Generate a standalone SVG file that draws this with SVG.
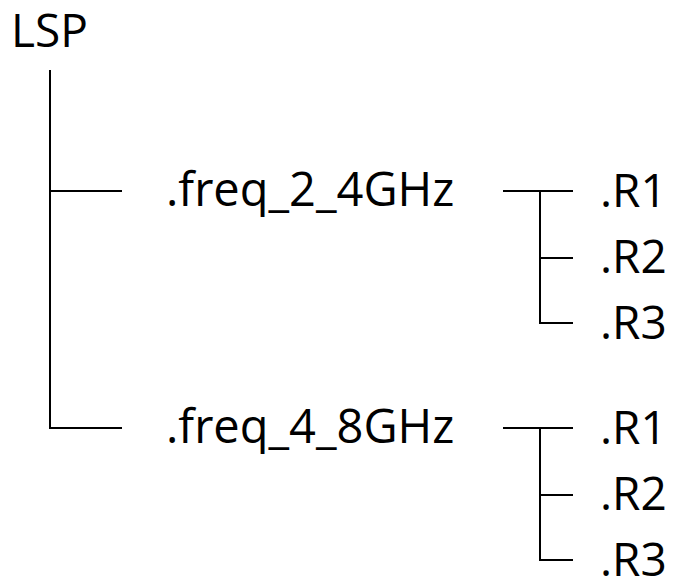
<svg xmlns="http://www.w3.org/2000/svg" width="673" height="577" viewBox="0 0 673 577">
<style>
text{font-family:"Open Sans","Noto Sans",sans-serif;font-size:46px;fill:#000}
.f{font-size:47px}
.c{stroke:#000;stroke-width:2;fill:none}
</style>
<rect width="673" height="577" fill="#fff"/>
<g id="connectors">
<path class="c" d="M50,70V428H122M50,191H122"/>
<path class="c" d="M503,191H573M540,191V323H573M540,258H573"/>
<path class="c" d="M503,428H573M540,428V560H573M540,495H573"/>
</g>
<g id="lsp"><text x="11" y="47">LSP</text></g>
<g id="freq24"><text class="f" x="166" y="206">.freq_2_4GHz</text></g>
<g id="r1a"><text x="600" y="207">.R1</text></g>
<g id="r2a"><text x="600" y="273">.R2</text></g>
<g id="r3a"><text x="600" y="339">.R3</text></g>
<g id="freq48"><text class="f" x="166" y="443">.freq_4_8GHz</text></g>
<g id="r1b"><text x="600" y="444">.R1</text></g>
<g id="r2b"><text x="600" y="510">.R2</text></g>
<g id="r3b"><text x="600" y="576">.R3</text></g>
</svg>
